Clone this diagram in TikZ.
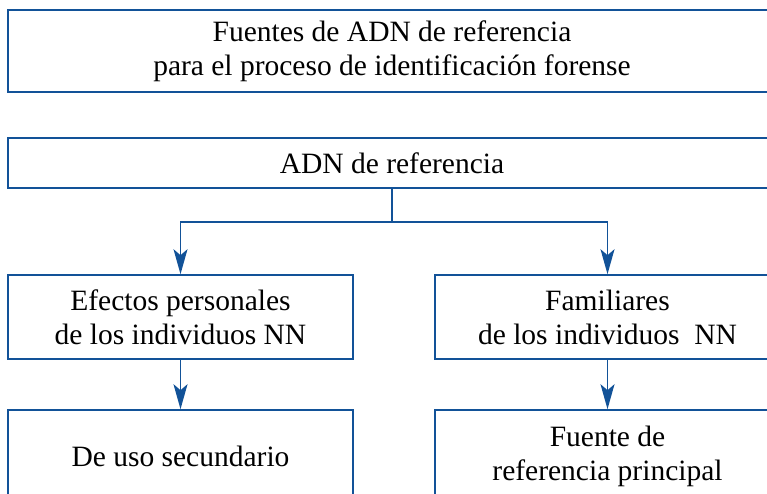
\documentclass[tikz,border=0pt]{standalone}
\usepackage{fontspec}
\setmainfont{Liberation Serif}
\usetikzlibrary{arrows.meta}
\definecolor{flowblue}{RGB}{18,82,152}
\tikzstyle{box}=[draw=flowblue,line width=1.6pt,rectangle,align=center,inner sep=0pt,font=\fontsize{29.5}{34}\selectfont]
\tikzstyle{widebox}=[box,minimum width=768pt]
\tikzstyle{halfbox}=[box,minimum width=345pt,minimum height=84pt]
\tikzstyle{link}=[draw=flowblue,line width=1.6pt]
\tikzstyle{arrow}=[link,-{Stealth[length=25pt,width=14pt,inset=6pt]}]

\begin{document}
\begin{tikzpicture}[x=1pt, y=-1pt]
    \useasboundingbox (0,0) rectangle (767,493);
    % First we draw the boxes
    \node[widebox, minimum height=82pt] (fuentes) at (392,51)
        {Fuentes de ADN de referencia\\para el proceso de identificación forense};
    \node[widebox, minimum height=50pt] (adn) at (392,163) {ADN de referencia};
    \node[halfbox] (efectos) at (180.5,317) {Efectos personales\\de los individuos NN};
    \node[halfbox] (familiares) at (607.5,317) {Familiares\\de los individuos\ \ NN};
    \node[halfbox, minimum height=92pt] (uso) at (180.5,456) {De uso secundario};
    \node[halfbox, minimum height=92pt] (principal) at (607.5,456) {Fuente de\\referencia principal};
    % Then the split below the reference box
    \coordinate (split) at (392,222);
    \path[link] (adn.south) -- (split);
    \foreach \dest in {efectos, familiares}
        \path[arrow] (split) -| (\dest.north);
    % Connect the columns
    \foreach \source/\dest in {efectos/uso, familiares/principal}
        \path[arrow] (\source.south) -- (\dest.north);
\end{tikzpicture}
\end{document}
